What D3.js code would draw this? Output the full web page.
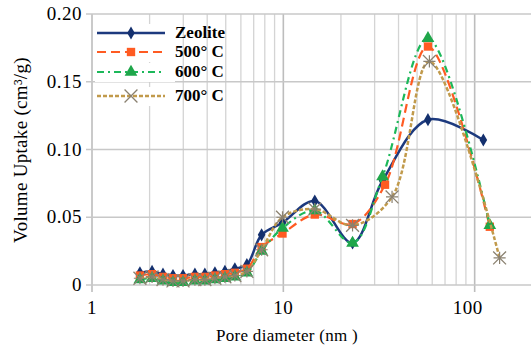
<!DOCTYPE html>
<html>
<head>
<meta charset="utf-8">
<script src="https://cdn.jsdelivr.net/npm/d3@7"></script>
<style>
  body { margin: 0; background: #fff; }
</style>
</head>
<body>
<div id="chart"></div>
<script>
// pore diameters (nm)
const xLow = [1.78, 2.06, 2.35, 2.65, 2.99, 3.45, 3.89, 4.39, 4.95, 5.58, 6.45, 7.7, 9.9, 14.6, 23]
const xZeolite = xLow.concat([33, 57, 111])
const x500 = xLow.concat([34, 57, 120])
const x600 = xLow.concat([33, 57, 120])
const x700 = xLow.concat([37, 58, 135])

// volume uptake (cm3/g)
const yZeolite = [0.009, 0.010, 0.008, 0.007, 0.007, 0.008, 0.008, 0.009, 0.010, 0.012, 0.015, 0.037, 0.046, 0.062, 0.031, 0.077, 0.122, 0.107]
const y500 = [0.007, 0.008, 0.006, 0.005, 0.005, 0.006, 0.006, 0.007, 0.008, 0.009, 0.012, 0.028, 0.038, 0.052, 0.045, 0.074, 0.176, 0.043]
const y600 = [0.004, 0.005, 0.003, 0.002, 0.002, 0.003, 0.003, 0.004, 0.005, 0.006, 0.009, 0.025, 0.042, 0.055, 0.031, 0.080, 0.182, 0.044]
const y700 = [0.005, 0.006, 0.004, 0.003, 0.003, 0.004, 0.004, 0.005, 0.006, 0.007, 0.010, 0.026, 0.050, 0.056, 0.044, 0.065, 0.165, 0.020]

const seriesNames = ['Zeolite', '500° C', '600° C', '700° C']
const yTicks = [0, 0.05, 0.10, 0.15, 0.20]
const yTickLabels = ['0', '0.05', '0.10', '0.15', '0.20']
const xTicks = [1, 10, 100]

const width = 531
const height = 345
const serif = '"Liberation Serif", "Times New Roman", Times, serif'

const x = d3.scaleLog().domain([1, 1000]).range([92, 666])
const y = d3.scaleLinear().domain([0, 0.2]).range([285, 14])

const svg = d3.select('#chart')
  .append('svg')
  .attr('width', width)
  .attr('height', height)
  .style('font-family', serif)

// gridlines
const minor = []
;[1, 10, 100].forEach(d => { for (let k = 2; k <= 9; k++) minor.push(d * k) })

svg.append('g')
  .selectAll('line')
  .data(minor.filter(v => x(v) < width))
  .enter()
  .append('line')
  .attr('x1', d => x(d)).attr('x2', d => x(d))
  .attr('y1', y(0.2)).attr('y2', y(0))
  .style('stroke', '#d4d4d4')
  .style('stroke-width', 1.3)

svg.append('g')
  .selectAll('line')
  .data(xTicks)
  .enter()
  .append('line')
  .attr('x1', d => x(d)).attr('x2', d => x(d))
  .attr('y1', y(0.2)).attr('y2', y(0) + 7)
  .style('stroke', '#bdbdbd')
  .style('stroke-width', 1.6)

svg.append('g')
  .selectAll('line')
  .data(yTicks)
  .enter()
  .append('line')
  .attr('x1', x(1) - 6).attr('x2', width)
  .attr('y1', d => y(d)).attr('y2', d => y(d))
  .style('stroke', '#c8c8c8')
  .style('stroke-width', 1.6)

// tick labels
svg.append('g')
  .selectAll('text')
  .data(yTicks)
  .enter()
  .append('text')
  .attr('x', 82)
  .attr('y', d => y(d) + 6)
  .attr('text-anchor', 'end')
  .style('font-family', serif)
  .style('font-size', '19px')
  .style('letter-spacing', '0.5px')
  .text((_, i) => yTickLabels[i])

svg.append('g')
  .selectAll('text')
  .data(xTicks)
  .enter()
  .append('text')
  .attr('x', d => x(d) - (d === 100 ? 7 : 0))
  .attr('y', 314)
  .attr('text-anchor', 'middle')
  .style('font-family', serif)
  .style('font-size', '19px')
  .style('letter-spacing', '0.5px')
  .text(d => d)

svg.append('text')
  .attr('x', 287)
  .attr('y', 341)
  .attr('text-anchor', 'middle')
  .style('font-family', serif)
  .style('font-size', '17px')
  .style('letter-spacing', '0.3px')
  .text('Pore diameter (nm )')

svg.append('text')
  .attr('transform', 'translate(27, 150) rotate(-90)')
  .attr('text-anchor', 'middle')
  .style('font-family', serif)
  .style('font-size', '19px')
  .style('letter-spacing', '0.3px')
  .text('Volume Uptake (cm³/g)')

// series
const series = [
  { name: seriesNames[0], xs: xZeolite, ys: yZeolite, color: '#1d3a7e', dash: null, width: 2.5, marker: 'diamond', mcolor: '#14306e' },
  { name: seriesNames[1], xs: x500, ys: y500, color: '#ff5b22', dash: '9,5', width: 2.2, marker: 'square', mcolor: '#ff5b22' },
  { name: seriesNames[2], xs: x600, ys: y600, color: '#1cb85a', dash: '7,4,2,4', width: 2.2, marker: 'triangle', mcolor: '#1fa64a' },
  { name: seriesNames[3], xs: x700, ys: y700, color: '#c19a4b', dash: '4,2', width: 2.5, marker: 'star', mcolor: '#8a8170' }
]

const line = d3.line()
  .x(d => x(d[0]))
  .y(d => y(d[1]))
  .curve(d3.curveCatmullRom.alpha(0.5))

const symbolOf = {
  diamond: d3.symbol().type(d3.symbolDiamond).size(50),
  square: d3.symbol().type(d3.symbolSquare).size(70),
  triangle: d3.symbol().type(d3.symbolTriangle).size(70),
  star: d3.symbol().type(d3.symbolTimes).size(110)
}

series.forEach(s => {
  const pts = s.xs.map((v, i) => [v, s.ys[i]])
  svg.append('path')
    .datum(pts)
    .attr('d', line)
    .style('fill', 'none')
    .style('stroke', s.color)
    .style('stroke-width', s.width)
    .style('stroke-dasharray', s.dash)

  svg.append('g')
    .selectAll('path')
    .data(pts)
    .enter()
    .append('path')
    .attr('transform', d => `translate(${x(d[0])},${y(d[1])})`)
    .attr('d', symbolOf[s.marker])
    .style('fill', s.marker === 'star' ? 'none' : s.mcolor)
    .style('stroke', s.marker === 'star' ? s.mcolor : 'none')
    .style('stroke-width', 1.3)
  if (s.marker === 'star') {
    svg.append('g')
      .selectAll('path')
      .data(pts)
      .enter()
      .append('path')
      .attr('transform', d => `translate(${x(d[0])},${y(d[1])})`)
      .attr('d', d3.symbol().type(d3.symbolPlus).size(50))
      .style('fill', 'none')
      .style('stroke', s.mcolor)
      .style('stroke-width', 1.2)
  }
})

// legend
const legendY = [33, 52, 72, 96]
const lg = svg.append('g')
series.forEach((s, i) => {
  lg.append('rect')
    .attr('x', 95).attr('y', legendY[i] - 9)
    .attr('width', 80).attr('height', 19)
    .style('fill', '#fff')
  lg.append('line')
    .attr('x1', 97).attr('x2', 165)
    .attr('y1', legendY[i]).attr('y2', legendY[i])
    .style('stroke', s.color)
    .style('stroke-width', s.width)
    .style('stroke-dasharray', s.dash)
  lg.append('path')
    .attr('transform', `translate(131,${legendY[i]})`)
    .attr('d', symbolOf[s.marker])
    .style('fill', s.marker === 'star' ? 'none' : s.mcolor)
    .style('stroke', s.marker === 'star' ? s.mcolor : 'none')
    .style('stroke-width', 1.3)
  lg.append('text')
    .attr('x', 175)
    .attr('y', legendY[i] + 5)
    .style('font-family', serif)
    .style('font-size', '17px')
    .style('font-weight', 'bold')
    .text(s.name)
})
</script>
</body>
</html>
